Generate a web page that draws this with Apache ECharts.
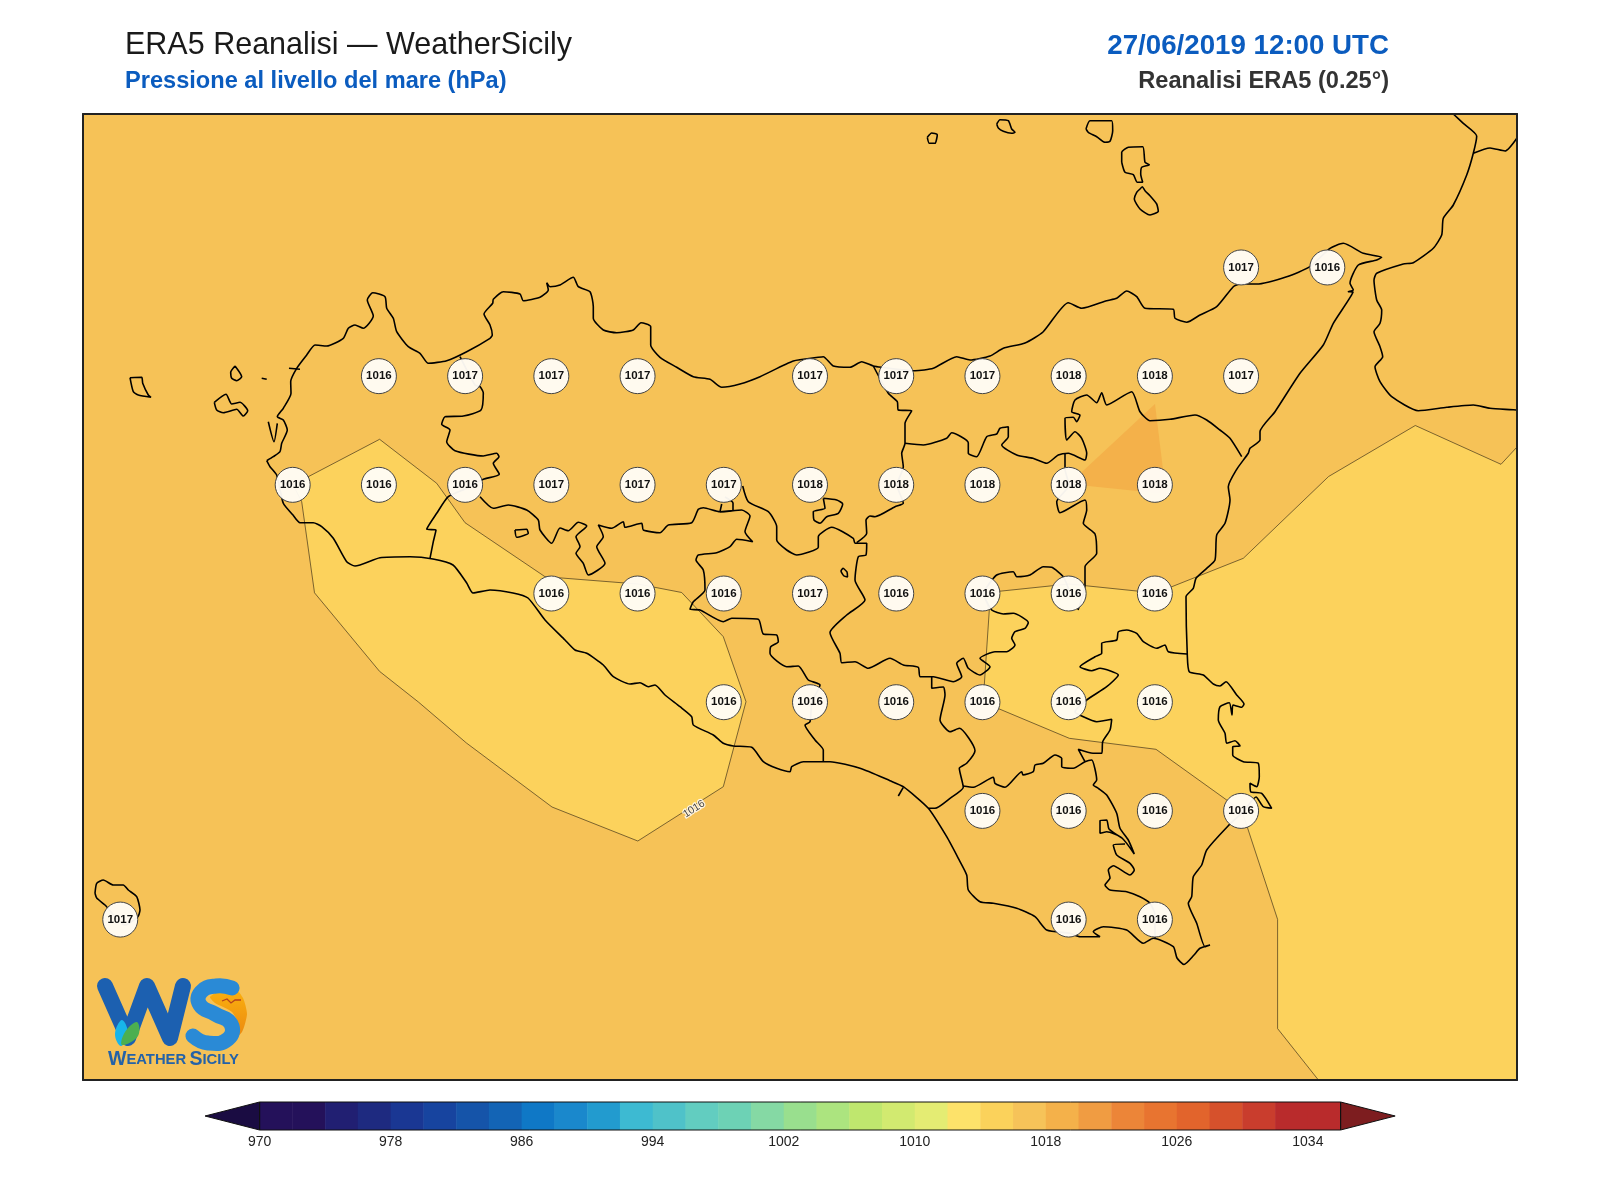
<!DOCTYPE html>
<html>
<head>
<meta charset="utf-8">
<title>ERA5 Reanalisi</title>
<script src="https://cdn.jsdelivr.net/npm/echarts@6/dist/echarts.min.js"></script>
<style>
  html, body { margin: 0; background: #fff; }
  #chart { width: 1600px; height: 1200px; }
</style>
</head>
<body>
<div id="chart"></div>
<script>
// station values, one array per latitude row
var lons = [12, 12.25, 12.5, 12.75, 13, 13.25, 13.5, 13.75, 14, 14.25, 14.5, 14.75, 15, 15.25, 15.5];
var lats = [38.25, 38, 37.75, 37.5, 37.25, 37, 36.75];
var row3825 = [null, null, null, null, null, null, null, null, null, null, null, null, null, 1017, 1016];
var row3800 = [null, null, null, 1016, 1017, 1017, 1017, null, 1017, 1017, 1017, 1018, 1018, 1017, null];
var row3775 = [null, null, 1016, 1016, 1016, 1017, 1017, 1017, 1018, 1018, 1018, 1018, 1018, null, null];
var row3750 = [null, null, null, null, null, 1016, 1016, 1016, 1017, 1016, 1016, 1016, 1016, null, null];
var row3725 = [null, null, null, null, null, null, null, 1016, 1016, 1016, 1016, 1016, 1016, null, null];
var row3700 = [null, null, null, null, null, null, null, null, null, null, 1016, 1016, 1016, 1016, null];
var row3675 = [1017, null, null, null, null, null, null, null, null, null, null, 1016, 1016, null, null];
var stationRows = [row3825, row3800, row3775, row3750, row3725, row3700, row3675];

// colour bar
var barLevels = [970, 972, 974, 976, 978, 980, 982, 984, 986, 988, 990, 992, 994, 996, 998, 1000, 1002,
  1004, 1006, 1008, 1010, 1012, 1014, 1016, 1018, 1020, 1022, 1024, 1026, 1028, 1030, 1032, 1034];
var barColors = ['#24115a', '#24115a', '#211f72', '#1e2a80', '#1a3793', '#17449f', '#1554a9', '#1364b5', '#0f78c6',
  '#1a88cc', '#229bcf', '#3dbad2', '#4fc2c9', '#62cdc0', '#6dd2b5', '#85d9a4', '#99df8e', '#ace47f', '#bfe76e',
  '#d2ea70', '#e4ec73', '#fde26a', '#fbd25b', '#f6c359', '#f4b14a', '#f09c42', '#ec8538', '#e87430', '#e2642c',
  '#d6512c', '#c93d2d', '#b92b2c', '#b92b2c'];
var tipColors = ['#1a0c42', '#7d1d1f'];

// map geometry, in map units of the plot frame
var sicilyCoast = [[266.7,460.7],[273.3,456.7],[280,451.7],[281.7,443.3],[287.3,430],[283.3,420],[277.3,416.7],[283.3,408.3],[291,393.3],[290.7,381.7],[296.7,368.3],[306.7,355],[315,345],[326.7,346],[343.3,338.3],[348.3,328.3],[355,325],[363.3,328.3],[373.3,316],[367.3,300],[372.7,292.7],[385,296.7],[386.7,308.3],[393.3,318.3],[396.7,331.7],[408.3,346.7],[420,353.3],[428.3,363.3],[446.7,360.7],[466.7,351.7],[490,338.3],[492.3,335],[490,325],[484,314],[492.7,303.3],[493.3,299.3],[503.3,291.7],[520,294],[523.3,300.7],[540,297.3],[548.3,290],[546.7,282.7],[550,286.7],[560,285],[573.3,277.3],[578.3,286.7],[590,291.7],[593.3,306.7],[593.3,318.3],[603.3,330],[616.7,332.7],[633.3,330],[641,322.7],[650.7,326.7],[650.7,345],[660,357.3],[676.7,367.3],[693.3,376.7],[710,379.3],[721.7,387.3],[740,384],[760,376.7],[793.3,361],[818.3,357.3],[823.3,356.7],[833.3,366],[850,367.3],[861.7,361.7],[873.3,366],[881.7,367.3],[915,370.7],[933.3,368.3],[956.7,356.7],[970,360],[990,356],[1003.3,348.3],[1025,343],[1043,332],[1068.3,302.7],[1081.7,308.3],[1106.7,300.7],[1116.7,298.3],[1126.7,291],[1136.7,296.7],[1145,308.3],[1173.3,309.3],[1175,318.3],[1186.7,322.3],[1200,315],[1216.7,306.7],[1233.3,286.7],[1240,284],[1256.7,284],[1286.7,276.7],[1310,266.7],[1330,248.3],[1343.3,243.3],[1363.3,253.3],[1381.7,257.3],[1376.7,260],[1358.3,265],[1350,283.3],[1353.3,290],[1348.3,291.7],[1353,292],[1333.3,323.3],[1323.3,345],[1300,373.3],[1275,411.7],[1260,431.7],[1260,440],[1250,448.3],[1248.3,453.3],[1236.7,469.3],[1228.3,486.7],[1230,500],[1225,523.3],[1216.7,535],[1215,560],[1206.7,568.3],[1196,578.3],[1193.3,588.3],[1186,596.7],[1187.3,655],[1189.3,671.7],[1203.3,675],[1213.3,684],[1220,686],[1226,681.7],[1236.7,695],[1244,704],[1241.7,707.3],[1233,705],[1232,715],[1229.3,702.7],[1220,706.7],[1218.3,720],[1225,733.3],[1226.7,743.3],[1235,740.7],[1240,746],[1232.7,746.7],[1232.7,755],[1243.3,761.7],[1258.3,763.3],[1259.3,776.7],[1256.7,786.7],[1250,783.3],[1250.7,791.7],[1261.7,793.3],[1271.7,808.3],[1263.3,806.7],[1256,797],[1243,812],[1228.3,825.7],[1206.7,850],[1201.7,865],[1193.3,876.7],[1191.7,896.7],[1188.3,903.3],[1196.7,923.3],[1205,946.7],[1210,945],[1200,948.3],[1194,955],[1184,964.5],[1177,958],[1173.3,946.7],[1153.3,938.3],[1143.3,943.3],[1126.7,930],[1103.3,926.7],[1093.3,931.7],[1100,936.7],[1080,936.7],[1070,933.3],[1046.7,930],[1035,916.7],[1016.7,908.3],[993.3,903.3],[980,901.7],[968.3,890],[966.7,875],[958.3,858.3],[946.7,836.7],[928.3,808.3],[903.3,786.7],[890,780.7],[860,768.3],[830,761.7],[803.3,761.7],[791.7,766.7],[790,771.7],[776.7,768.3],[763.3,761.7],[751.7,747.3],[733.3,746],[723.3,743.3],[713.3,735],[693.3,725],[691.7,716.7],[680,706.7],[665,695],[655,685],[648.3,686.7],[640,682.7],[630,684],[613.3,676.7],[603.3,665],[586.7,653.3],[575,650],[565,640],[545,620],[528,598],[513,593],[490,590],[473,593],[466.7,583],[453,565],[433,559],[410,556.7],[380,557.7],[355,566],[346.7,561.7],[333.3,538.3],[321.7,526.7],[313.3,522.7],[300,522.7],[293,515],[283.3,503.3],[276.7,475],[270,466.7],[266.7,460.7]];
var calabriaCoast = [[1453.3,114],[1463.3,123.3],[1476.7,136],[1473.3,153.3],[1466.7,175],[1453.3,205],[1443.3,218.3],[1441.7,235],[1433.3,248.3],[1413.3,262.7],[1403.3,264],[1376.7,273.3],[1374,280],[1376.7,300],[1381.7,310],[1380,323.3],[1374,331.7],[1380,346.7],[1382.7,356.7],[1375,366.7],[1380,381.7],[1391.7,396.7],[1418.3,410.7],[1446.7,407.3],[1473.3,405],[1490,408.3],[1517,410]];
var calabriaSpur = [[1473.3,153.3],[1490,148],[1505,151],[1517,138]];
var marettimo = [[130,377.7],[141.7,377.3],[142.7,383.3],[148.3,395],[151,397.3],[138.3,395],[133.3,391.7],[130,377.7]];
var levanzo = [[235,366],[241.7,376.7],[236.7,380.7],[231.7,378.3],[230.7,372.3],[235,366]];
var favignana = [[214.3,402.3],[226,394.3],[231.7,404],[240,402.3],[247.7,410.7],[243.3,416],[236.7,409.3],[223.3,412.7],[216.7,410],[214.3,402.3]];
var formica = [[261.7,378.3],[266.7,379.3]];
var stagnone = [[268.3,421.7],[274,441.7],[277.3,423.3]];
var trapaniSpur = [[289,368.3],[300,369.3]];
var alicudi = [[927.3,137.3],[931.7,133],[937.3,134.7],[935,143.3],[929.3,143.3],[927.3,137.3]];
var filicudi = [[996.7,124],[1000,119.7],[1008.3,120.7],[1011.7,129],[1015,132.3],[1011.7,133.3],[1003.3,131.3],[998.3,128],[996.7,124]];
var salina = [[1086,129],[1090,120.7],[1111.7,120.7],[1112.7,130.7],[1110,141.3],[1105,142.3],[1096.7,136.7],[1088.3,132.3],[1086,129]];
var lipari = [[1121.7,162.3],[1121.7,152.3],[1128.3,147.3],[1142.7,146.7],[1145,162.3],[1149.3,164.7],[1141.7,167.3],[1140.7,174],[1142.7,182.3],[1137.3,182.3],[1133.3,174.7],[1125,172.3],[1121.7,162.3]];
var vulcano = [[1140,189],[1142.3,186.7],[1145,190.7],[1150,195.7],[1156.7,204],[1158.3,211.3],[1150,215],[1140,209],[1134.3,199],[1136.7,192.3],[1140,189]];
var pantelleria = [[95,893.3],[96.7,883.3],[103.3,880],[113.3,885],[123.3,885],[128.3,890],[136.7,896.7],[140,910],[137.7,917],[125,925],[105,905],[96.7,898],[95,893.3]];
var ferdinandea = [[515,530],[526.7,529.3],[528.3,533.3],[516.7,537.3],[515,530]];
var pergusa = [[843,568],[847,572],[847.5,577],[844,576],[841,571],[843,568]];

var borderTrapani = [[460,356.7],[475,385],[480,386.7],[483.3,392.7],[481,410],[463.3,416],[445,416.7],[441.7,424.3],[450,430],[446.7,441.7],[455,450.7],[483.3,456],[496.7,453.3],[499,456.7],[493.3,463.3],[499.3,474.3],[483.3,479.3],[466.7,488.3],[448.3,496.7],[436.7,513.3],[426.7,529.3],[436,530],[433.3,541.7],[430,558.3]];
var borderAgrigento = [[480,496.7],[493.3,508.3],[508.3,505],[526.7,510],[538.3,520],[540,530],[551.7,543.3],[560,528],[568.3,530.7],[578.3,522.3],[586.7,526],[576,536.7],[580,546.7],[576,553.3],[583.3,563.3],[588.3,575],[605,563.3],[596.7,546.7],[603.3,536.7],[598.3,525],[611.7,528.3],[623.3,521.7],[625,527.3],[641.7,523.3],[643.3,530],[660,532.7],[668.3,525],[691.7,522.7],[698.3,509.3],[703.3,507.7],[720,511.7],[741.7,510],[750,516],[745,531.7],[752.7,541.7],[736.7,539.3],[730,546.7],[716.7,552.7],[698.3,555],[696,560],[703.3,570],[705,590],[693.3,601.7],[690,609.3],[700,610],[723.3,621.7],[731.7,618.3],[758.3,619.3],[763.3,634],[776.7,635],[778.3,641.7],[770.7,646.7],[770,653.3],[786.7,666.7],[798.3,666],[808.3,680],[820,685],[812,702],[810,721.7],[805,725],[815,740],[823.3,750],[823.3,761.7]];
var borderPalermoEnclave = [[721.7,504],[720,511.7],[733,510],[733,503],[725,497]];
var borderCaltanissetta = [[742.7,486],[748.3,501.7],[768.3,511.7],[776.7,526.7],[776.7,540],[786.7,550],[796.7,555],[818.3,547.3],[818.3,536.7],[831.7,527.3],[853.3,538.3],[855,543.3],[866.7,543.3],[866,555],[858.3,556.7],[855,580],[865,600],[846.7,615],[830,632.7],[840,653.3],[841.7,662.7],[855,661.7],[868.3,668.3],[890,658.3],[903.3,665],[918.3,667.3],[920,676.7],[933.3,676.7],[953.3,681.7],[961.7,676.7],[956.7,663.3],[963.3,658.3],[968.3,668.3],[980,675],[990,666.7],[980,658.3],[995,651.7],[1006.7,651.7],[1015,645],[1011.7,638.3],[1015,631.7],[1025,628.3],[1028.3,622.7],[1013.3,613.3],[1003.3,614],[991.7,610],[982.7,593]];
var borderGela = [[931.7,676.7],[931.7,688.3],[943.3,687],[945,695],[940,720],[950,731.7],[959.3,728.3],[975,750.7],[966.7,763.3],[959.3,768.3],[963.3,787.3],[950,798.3],[935,808.3],[928.3,808.3]];
var borderMadonie = [[823.3,498.3],[836.7,500],[842.7,504],[838.3,513.3],[826.7,516.7],[820,523.3],[814,520],[813.3,511.7],[825,508.3],[823.3,498.3]];
var borderMessinaWest = [[873.3,366],[888.3,393.3],[897.3,401.7],[898.3,410],[911.7,410.7],[905,423.3],[905,443.3],[901.7,453.3],[903.3,466.7],[897,485],[903.3,503.3],[895,506.7],[875,516.7],[870,516],[866,520],[866.7,533.3],[856.7,542.7]];
var borderMessinaSouth = [[905,443.3],[923.3,445],[946.7,438.3],[951.7,432.7],[968.3,442.7],[968.3,453.3],[976.7,456.7],[986.7,436.7],[996.7,434],[1000,428.3],[1008.3,426.7],[1008.3,436.7],[1001.7,445],[1016.7,455],[1033,458.3],[1046.7,463.3],[1058.3,455],[1068.3,453.3],[1085,460],[1086.7,453.3],[1081.7,438.3],[1075,431.7],[1066.7,440],[1065,418.3],[1073.3,417.3],[1076.7,421.7],[1080,415],[1071.7,411.7],[1075,400],[1086.7,395],[1096.7,402.7],[1101.7,392.7],[1106.7,405],[1131.7,391.7],[1140,411.7],[1150,420.7],[1170,419.3],[1195,415],[1206.7,420],[1220,430],[1230,438.3],[1241.7,456.7]];
var borderEnnaEast = [[1065,453],[1065,469],[1069,485],[1056.7,501.7],[1060,512.7],[1085,500],[1086.7,510],[1083.3,523.3],[1095,534],[1096.7,553.3],[1085,566.7],[1085,585],[1078,610]];
var borderEnnaSouth = [[982.7,593],[996.7,575],[1013.3,571.7],[1016.7,576.7],[1030,575],[1043.3,566.7],[1051.7,567.3],[1063.3,576.7],[1069,590]];
var borderCatania = [[1187,654],[1168.3,651.7],[1165,645],[1156.7,648.3],[1143.3,641.7],[1136.7,633.3],[1126.7,630],[1118.3,631.7],[1116.7,640],[1101.7,643.3],[1101.7,653.3],[1095,656.7],[1080,666.7],[1091.7,670.7],[1100,668.3],[1118.3,675],[1106.7,686.7],[1086.7,700],[1075,712],[1081.7,716],[1096.7,721.7],[1111.7,719.3],[1110,730],[1102.7,741.7],[1101.7,753.3],[1093,753.3],[1078.3,749.3],[1085,761.7]];
var borderRagusa = [[963,786],[973.3,787.3],[993.3,777.3],[995,783.3],[1005,787.3],[1021.7,771.7],[1023,775],[1033.3,771.7],[1035,765],[1043.3,763.3],[1055,755],[1061.7,758.3],[1061.7,766.7],[1073.3,768.3],[1085,761.7],[1091.7,760],[1096.7,780],[1093.3,785],[1098.3,788.3],[1106.7,795],[1116.7,813.3],[1120,828.3],[1128.3,840],[1134.3,854],[1122,838],[1106.7,831.7],[1100,833.3],[1100,820.7],[1106.7,820],[1109,829],[1122,838]];
var borderSiracusa = [[1125,844],[1113.3,845],[1116.7,855],[1130,863.3],[1134.3,870],[1130,875],[1113.3,865.7],[1108.3,870],[1110,878],[1105,885],[1110,890],[1126.7,891.7],[1140,896.7],[1150,903.3],[1155,915],[1155,938]];
var southTick = [[898.3,796],[903.3,787.3]];

var mapLines = [sicilyCoast, calabriaCoast, calabriaSpur, marettimo, levanzo, favignana, formica, stagnone, trapaniSpur,
  alicudi, filicudi, salina, lipari, vulcano, pantelleria, ferdinandea, pergusa, borderTrapani, borderAgrigento,
  borderPalermoEnclave, borderCaltanissetta, borderGela, borderMadonie, borderMessinaWest, borderMessinaSouth,
  borderEnnaEast, borderEnnaSouth, borderCatania, borderRagusa, borderSiracusa, southTick];

// filled pressure bands
var band1016West = [[293,484.7],[379.6,439.3],[436.7,483.3],[465,522.7],[545,576.7],[637.8,584],[681.7,592.5],[723.3,636.7],[746,701.7],[723.3,786.7],[637.8,841],[552,807],[466.3,742.9],[418.4,702],[379.6,671.4],[314.5,592.8],[301.7,501.7]];
var band1016East = [[1517,447],[1501,464.3],[1415.3,425.5],[1328.6,476.5],[1243.3,558.3],[1156,593],[1069,584],[982.7,593],[989.3,610],[984.3,685],[982.7,702],[1069.3,738.3],[1156,749.3],[1242,811],[1277.6,919.4],[1277.6,1028.6],[1318.4,1080],[1517,1080]];
var band1018 = [[1155,404],[1069,484],[1166,494]];
var contourLabels = [[694, 809, '1016']];

var stationData = [];
stationRows.forEach(function (row, r) {
  row.forEach(function (v, c) {
    if (v !== null) stationData.push([lons[c], lats[r], v]);
  });
});

function polygonSeries(points, fill, stroke) {
  return {
    type: 'custom',
    xAxisIndex: 0,
    yAxisIndex: 0,
    clip: true,
    silent: true,
    z: 2,
    data: points,
    encode: { x: 0, y: 1 },
    renderItem: function (params, api) {
      if (params.dataIndex !== 0) return;
      return {
        type: 'polygon',
        shape: { points: points.map(function (p) { return api.coord(p); }) },
        style: { fill: fill, stroke: stroke || null, lineWidth: 0.8 }
      };
    }
  };
}

var series = [
  polygonSeries(band1016West, '#fcd25c', 'rgba(50,40,20,0.8)'),
  polygonSeries(band1016East, '#fcd25c', 'rgba(50,40,20,0.8)'),
  polygonSeries(band1018, '#f4b14a')
];

mapLines.forEach(function (line) {
  series.push({
    type: 'line',
    xAxisIndex: 0,
    yAxisIndex: 0,
    data: line,
    symbol: 'none',
    smooth: 0.2,
    silent: true,
    z: 3,
    lineStyle: { color: '#000', width: 1.6 }
  });
});

series.push({
  type: 'scatter',
  xAxisIndex: 0,
  yAxisIndex: 0,
  z: 4,
  silent: true,
  symbolSize: 1,
  data: contourLabels,
  itemStyle: { color: 'rgba(0,0,0,0)' },
  label: {
    show: true,
    position: 'inside',
    rotate: 32,
    formatter: function (p) { return p.value[2]; },
    fontFamily: 'Liberation Sans',
    fontSize: 10.5,
    color: '#111',
    textBorderColor: '#fff',
    textBorderWidth: 2.5
  }
});

series.push({
  type: 'scatter',
  xAxisIndex: 1,
  yAxisIndex: 1,
  z: 5,
  silent: true,
  symbolSize: 35,
  data: stationData,
  itemStyle: { color: 'rgba(255,252,246,0.96)', opacity: 1, borderColor: '#444', borderWidth: 1 },
  label: {
    show: true,
    position: 'inside',
    formatter: function (p) { return p.value[2]; },
    fontFamily: 'Liberation Sans',
    fontWeight: 'bold',
    fontSize: 11.5,
    color: '#111'
  }
});

// colour bar cells and the two end arrows
series.push({
  type: 'custom',
  xAxisIndex: 2,
  yAxisIndex: 2,
  silent: true,
  data: barLevels.map(function (v) { return [v, v + 2]; }),
  encode: { x: [0, 1] },
  renderItem: function (params, api) {
    var a = api.coord([api.value(0), 1]);
    var b = api.coord([api.value(1), 0]);
    return {
      type: 'rect',
      shape: { x: a[0], y: a[1], width: b[0] - a[0] + 0.5, height: b[1] - a[1] },
      style: { fill: barColors[params.dataIndex] }
    };
  }
});
series.push({
  type: 'custom',
  xAxisIndex: 2,
  yAxisIndex: 2,
  silent: true,
  z: 3,
  data: [[966.67, 970], [1039.33, 1036]],
  encode: { x: [0, 1] },
  renderItem: function (params, api) {
    return {
      type: 'polygon',
      shape: { points: [api.coord([api.value(0), 0.5]), api.coord([api.value(1), 1]), api.coord([api.value(1), 0])] },
      style: { fill: tipColors[params.dataIndex], stroke: '#111', lineWidth: 1 }
    };
  }
});
series.push({
  type: 'custom',
  xAxisIndex: 2,
  yAxisIndex: 2,
  silent: true,
  z: 3,
  data: [[970, 1036]],
  encode: { x: [0, 1] },
  renderItem: function (params, api) {
    var a = api.coord([api.value(0), 1]);
    var b = api.coord([api.value(1), 0]);
    return {
      type: 'rect',
      shape: { x: a[0], y: a[1], width: b[0] - a[0], height: b[1] - a[1] },
      style: { fill: null, stroke: '#111', lineWidth: 1 }
    };
  }
});

var frameLine = { show: true, onZero: false, lineStyle: { color: '#222', width: 2 } };
var hidden = { axisTick: { show: false }, axisLabel: { show: false }, splitLine: { show: false } };

function axis(extra) {
  return Object.assign({ type: 'value', z: 10, silent: true, axisLine: frameLine }, hidden, extra);
}

var logo = [
  { type: 'polygon', z: 20,
    shape: { points: [[232, 985], [243, 998], [247, 1014], [242, 1032], [228, 1044], [212, 1048], [200, 1046], [225, 1040], [238, 1025], [232, 1012], [215, 1003], [210, 997], [220, 990]], smooth: 0.2 },
    style: { fill: new echarts.graphic.LinearGradient(0, 0, 0, 1, [{ offset: 0, color: '#fbb40f' }, { offset: 1, color: '#e9800f' }]) } },
  { type: 'polyline', z: 21, shape: { points: [[105, 986], [128, 1038], [147, 986], [170, 1038], [183, 986]] },
    style: { stroke: '#1c60b0', lineWidth: 16, fill: null, lineJoin: 'round', lineCap: 'round' } },
  { type: 'polyline', z: 21, shape: { points: [[232, 988], [216, 986], [201, 992], [200, 1005], [215, 1014], [231, 1024], [228, 1039], [208, 1043], [193, 1036]], smooth: 0.5 },
    style: { stroke: '#2a8ad6', lineWidth: 15, fill: null, lineCap: 'round' } },
  { type: 'polygon', z: 22, shape: { points: [[121, 1046], [115, 1034], [122, 1020], [128, 1034]], smooth: 0.4 }, style: { fill: '#18b5ea' } },
  { type: 'polygon', z: 23, shape: { points: [[122, 1045], [125, 1032], [137, 1022], [138, 1036]], smooth: 0.4 }, style: { fill: '#4caf50' } },
  { type: 'polyline', z: 23, shape: { points: [[222, 1001], [227, 999], [231, 1003], [235, 1000], [241, 1000]] }, style: { stroke: '#b5421c', lineWidth: 1.3, fill: null } },
  { type: 'text', z: 23, x: 108, y: 1050,
    style: { text: '{a|W}{b|EATHER} {a|S}{b|ICILY}', rich: {
      a: { fontFamily: 'Liberation Sans', fontWeight: 'bold', fontSize: 19.5, fill: '#2462a8' },
      b: { fontFamily: 'Liberation Sans', fontWeight: 'bold', fontSize: 14.8, fill: '#2462a8' }
    } } }
];

var option = {
  animation: false,
  backgroundColor: '#fff',
  title: [
    { text: 'ERA5 Reanalisi — WeatherSicily', left: 120, top: 25, textStyle: { fontFamily: 'Liberation Sans', fontWeight: 'normal', fontSize: 30.5, color: '#1a1a1a' } },
    { text: 'Pressione al livello del mare (hPa)', left: 120, top: 64, textStyle: { fontFamily: 'Liberation Sans', fontWeight: 'bold', fontSize: 23.6, color: '#0b5cbf' } },
    { text: '27/06/2019 12:00 UTC', right: 206, top: 27, textStyle: { fontFamily: 'Liberation Sans', fontWeight: 'bold', fontSize: 27.7, color: '#0b5cbf' } },
    { text: 'Reanalisi ERA5 (0.25°)', right: 206, top: 64, textStyle: { fontFamily: 'Liberation Sans', fontWeight: 'bold', fontSize: 23.6, color: '#333' } }
  ],
  tooltip: { show: false },
  grid: [
    { left: 83, top: 114, width: 1434, height: 966, show: true, backgroundColor: '#f6c257', borderWidth: 0 },
    { left: 259.6, top: 1102, width: 1081, height: 28, show: false }
  ],
  xAxis: [
    axis({ gridIndex: 0, min: 83, max: 1517, position: 'bottom' }),
    axis({ gridIndex: 0, min: 11.892, max: 16.05, position: 'top' }),
    {
      gridIndex: 1, type: 'value', min: 970, max: 1036, interval: 8, silent: true,
      axisLine: { show: false }, axisTick: { show: false }, splitLine: { show: false },
      axisLabel: { showMaxLabel: false, margin: 5, fontFamily: 'Liberation Sans', fontSize: 14, color: '#222', formatter: function (v) { return String(v); } }
    }
  ],
  yAxis: [
    axis({ gridIndex: 0, min: 114, max: 1080, inverse: true, position: 'left' }),
    axis({ gridIndex: 0, min: 36.381, max: 38.603, position: 'right' }),
    { gridIndex: 1, type: 'value', min: 0, max: 1, show: false }
  ],
  series: series,
  graphic: { elements: logo }
};

var chart = echarts.init(document.getElementById('chart'));
chart.setOption(option);
</script>
</body>
</html>
